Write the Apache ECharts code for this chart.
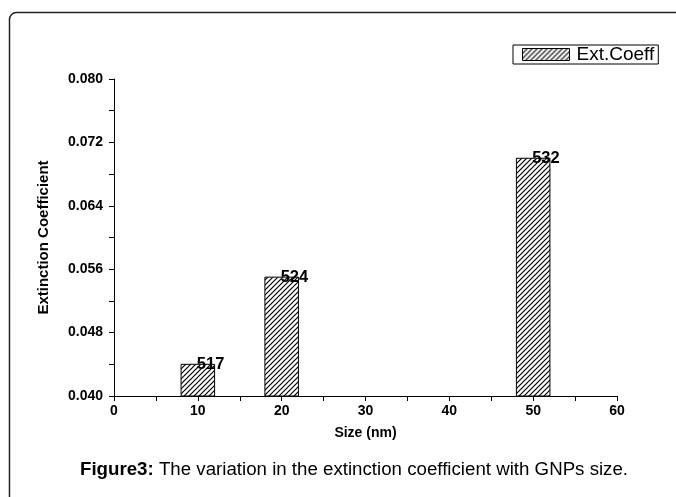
<!DOCTYPE html>
<html>
<head>
<meta charset="utf-8">
<script src="https://cdn.jsdelivr.net/npm/echarts@6/dist/echarts.min.js"></script>
<style>html,body{margin:0;padding:0;background:#fff;}#c{width:676px;height:497px;}</style>
</head>
<body>
<div id="c"></div>
<script>
var sizes = [10, 20, 50];
var extCoeff = [0.044, 0.055, 0.070];
var peakLabels = ['517', '524', '532'];
var yTicks = {min: 0.040, max: 0.080, interval: 0.008};
var xTicks = {min: 0, max: 60, interval: 10};
var barHalfWidth = 2;

function hatch() {
  var n = 5;
  var c = document.createElement('canvas');
  c.width = n; c.height = n;
  var g = c.getContext('2d');
  g.fillStyle = '#fff'; g.fillRect(0, 0, n, n);
  g.strokeStyle = '#000'; g.lineWidth = 1.2;
  g.beginPath();
  g.moveTo(-1, n + 1); g.lineTo(n + 1, -1);
  g.moveTo(-1, 1); g.lineTo(1, -1);
  g.moveTo(n - 1, n + 1); g.lineTo(n + 1, n - 1);
  g.stroke();
  return c;
}
var pattern = {image: hatch(), repeat: 'repeat'};
var F = 'Liberation Sans, Arial, sans-serif';

var chart = echarts.init(document.getElementById('c'), null, {renderer: 'canvas'});
chart.setOption({
  animation: false,
  backgroundColor: '#fff',
  grid: {left: 114, right: 59, top: 79, bottom: 101},
  legend: {
    left: 513, top: 45,
    orient: 'horizontal',
    borderColor: '#000', borderWidth: 1,
    padding: [0, 4, 0, 9],
    itemWidth: 47, itemHeight: 12, itemGap: 8,
    textStyle: {fontFamily: F, fontSize: 19, color: '#000', padding: [0, 0, 0, 2]},
    data: [{name: 'Ext.Coeff', icon: 'rect', itemStyle: {color: pattern, borderColor: '#000', borderWidth: 1}}]
  },
  xAxis: {
    type: 'value', min: xTicks.min, max: xTicks.max, interval: xTicks.interval,
    name: 'Size (nm)', nameLocation: 'middle', nameGap: 30,
    nameTextStyle: {fontFamily: F, fontSize: 14, fontWeight: 'bold', color: '#000'},
    axisLine: {show: true, lineStyle: {color: '#000', width: 1}},
    axisTick: {show: true, length: 5, lineStyle: {color: '#000'}},
    minorTick: {show: true, splitNumber: 2, length: 5, lineStyle: {color: '#000'}},
    splitLine: {show: false},
    axisLabel: {fontFamily: F, fontSize: 14, fontWeight: 'bold', color: '#000', margin: 8}
  },
  yAxis: {
    type: 'value', min: yTicks.min, max: yTicks.max, interval: yTicks.interval,
    name: 'Extinction Coefficient', nameLocation: 'middle', nameGap: 63,
    nameTextStyle: {fontFamily: F, fontSize: 15, fontWeight: 'bold', color: '#000'},
    axisLine: {show: true, lineStyle: {color: '#000', width: 1}},
    axisTick: {show: true, length: 5, lineStyle: {color: '#000'}},
    minorTick: {show: true, splitNumber: 2, length: 5, lineStyle: {color: '#000'}},
    splitLine: {show: false},
    axisLabel: {fontFamily: F, fontSize: 14, fontWeight: 'bold', color: '#000', margin: 11,
      formatter: function (v) { return v.toFixed(3); }}
  },
  series: [{
    name: 'Ext.Coeff',
    type: 'custom',
    itemStyle: {color: pattern},
    data: sizes.map(function (s, i) { return [s, extCoeff[i]]; }),
    renderItem: function (params, api) {
      var x = api.value(0), v = api.value(1);
      var p0 = api.coord([x - barHalfWidth, yTicks.min]);
      var p1 = api.coord([x + barHalfWidth, v]);
      return {
        type: 'group',
        children: [{
          type: 'rect',
          shape: {x: p0[0], y: p1[1], width: p1[0] - p0[0], height: p0[1] - p1[1]},
          style: {fill: pattern, stroke: '#000', lineWidth: 1}
        }, {
          type: 'text',
          x: p1[0] - 4, y: p1[1],
          style: {text: peakLabels[params.dataIndex], fontFamily: F, fontSize: 16.5, fontWeight: 'bold',
            fill: '#000', align: 'center', verticalAlign: 'middle'}
        }]
      };
    }
  }],
  graphic: [{
    type: 'rect',
    shape: {x: 9.5, y: 12.5, width: 700, height: 520, r: 7},
    style: {fill: 'none', stroke: '#222', lineWidth: 1.5},
    silent: true
  }, {
    type: 'text',
    left: 80, top: 460,
    style: {
      text: '{b|Figure3:} The variation in the extinction coefficient with GNPs size.',
      fontFamily: F, fontSize: 18.7, fill: '#000',
      rich: {b: {fontFamily: F, fontSize: 18.7, fontWeight: 'bold', fill: '#000'}}
    }
  }]
});
</script>
</body>
</html>
